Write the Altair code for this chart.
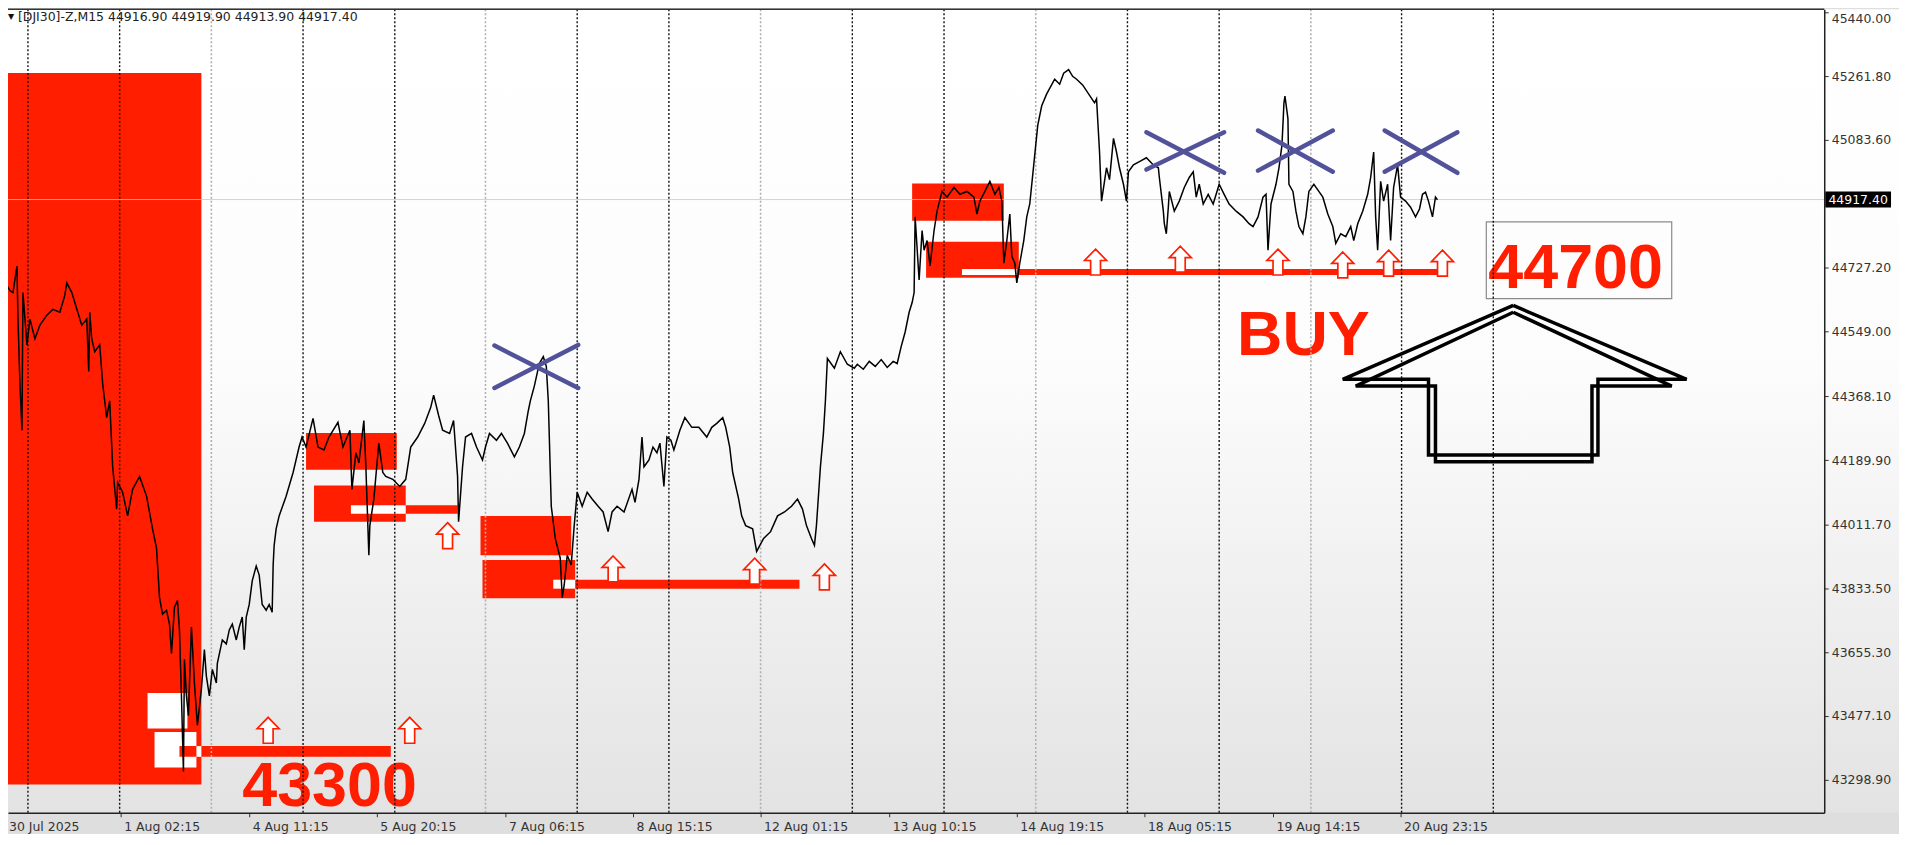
import altair as alt
import pandas as pd

# ---------------- price series: M15 bar index and close price ----------------
BAR = [0,3,5,7,10,13,17,18,20,22,23,27,30,35,40,47,53,60,65,67,72,78,82,87,89,90,92,95,100,103,107,110,113,117,118,123,128,133,140,147,153,157,
       160,163,167,170,172,175,178,180,182,184,185,187,189,192,195,198,202,205,207,210,213,217,218,223,227,230,233,237,240,243,245,247,250,253,257,260,263,267,270,273,274,275,277,280,
       287,294,300,303,307,314,319,325,330,339,344,351,353,357,360,365,367,370,371,375,380,384,387,394,401,407,412,419,426,432,435,440,444,451,455,459,460,464,467,473,478,484,487,491,498,503,509,516,521,526,530,532,536,541,545,548,550,553,557,562,564,566,569,573,576,579,584,589,594,600,605,610,614,619,626,634,637,641,644,646,651,655,659,662,666,669,673,676,682,687,694,701,709,714,719,725,728,732,735,741,744,748,755,759,766,773,780,787,794,800,805,809,814,817,819,823,826,828,
       830,837,843,850,857,860,866,872,878,884,890,896,900,904,908,912,915,917,918,922,925,927,930,933,937,940,945,950,957,963,970,977,980,983,988,993,998,1002,1005,1007,1010,1013,1015,1018,1020,1023,1027,1030,1033,1037,1041,1045,1050,1058,1063,1067,1072,1076,1080,1086,1092,1098,1100,1103,1105,1110,1113,1117,1120,1123,1127,1130,1132,1137,1143,1150,1157,1162,1163,1167,1168,1170,1172,1173,1178,1183,1188,1193,1197,1200,1203,1207,1212,1217,1223,1228,1233,1240,1247,1253,1257,1262,1267,1270,1272,1275,1280,1283,1286,1288,1289,1292,1293,1297,1300,1303,1307,1310,1313,1318,1323,1327,1332,1337,1340,1345,1350,1355,1358,1362,1367,1372,1375,1378,1380,1382,1385,1388,1392,1395,1398,1402,1405,1410,1415,1420,1424,1427,1430,1433,1437,1440,1442]
CLOSE = [44732,44658,44567,44677,44663,44658,44732,44584,44403,44274,44658,44512,44584,44529,44567,44595,44611,44603,44650,44685,44658,44603,44567,44584,44438,44603,44529,44493,44512,44403,44309,44356,44172,44054,44128,44101,44035,44109,44145,44090,43999,43945,
         43807,43761,43772,43733,43651,43780,43799,43717,43533,43322,43635,43533,43478,43725,43569,43451,43552,43662,43588,43533,43607,43569,43624,43689,43678,43717,43733,43689,43725,43753,43662,43753,43788,43854,43895,43870,43788,43772,43788,43766,43898,43953,43999,44035,
         44090,44156,44227,44255,44227,44307,44227,44219,44255,44296,44227,44274,44109,44211,44183,44301,44172,43925,44008,44082,44238,44156,44145,44137,44117,44137,44227,44255,44293,44337,44372,44315,44274,44265,44301,44145,44019,44172,44255,44265,44227,44191,44227,44265,44246,44265,44238,44200,44227,44265,44329,44356,44397,44460,44479,44452,44356,44062,43972,43917,43807,43843,43925,43898,44008,44101,44062,44101,44082,44062,44046,43991,44046,44062,44046,44109,44073,44137,44255,44172,44191,44227,44211,44238,44117,44255,44246,44219,44274,44309,44282,44282,44255,44282,44293,44309,44282,44227,44156,44082,44035,44008,43999,43936,43972,43991,44035,44046,44062,44082,44054,44008,43972,43953,44008,44172,44265,44356,
         44474,44447,44493,44458,44447,44458,44444,44466,44452,44471,44449,44466,44460,44507,44548,44603,44630,44658,44869,44693,44831,44776,44803,44732,44831,44885,44940,44924,44951,44932,44940,44924,44877,44913,44940,44968,44932,44951,44913,44740,44803,44877,44759,44740,44685,44740,44803,44869,44905,45014,45124,45179,45212,45253,45239,45270,45280,45261,45253,45237,45212,45187,45198,45050,44913,45006,44973,45088,45050,45006,44960,44913,44995,45014,45023,45034,45014,45006,44979,44885,44850,44822,44896,44940,44885,44913,44951,44979,44995,44924,44960,44905,44932,44905,44960,44932,44905,44885,44869,44850,44842,44869,44924,44932,44776,44905,44960,45006,45069,45187,45206,45143,44960,44940,44885,44842,44822,44869,44940,44960,44940,44924,44877,44842,44795,44822,44814,44842,44803,44850,44885,44932,44979,45050,44869,44776,44968,44913,44960,44803,44951,45014,44924,44913,44896,44869,44891,44932,44938,44913,44869,44924,44917]

HEADER = "[DJI30]-Z,M15  44916.90 44919.90 44913.90 44917.40"
LAST_PRICE = 44917.40

# ---------------- axes ----------------
TICK_BARS = [121, 250, 378, 507, 635, 763, 892, 1020, 1148, 1277, 1405]
TICK_LABELS = ["1 Aug 02:15", "4 Aug 11:15", "5 Aug 20:15", "7 Aug 06:15", "8 Aug 15:15",
               "12 Aug 01:15", "13 Aug 10:15", "14 Aug 19:15", "18 Aug 05:15", "19 Aug 14:15", "20 Aug 23:15"]
FIRST_TICK_BAR = 8
FIRST_TICK_LABEL = "30 Jul 2025"
Y_TICKS = [43298.9, 43477.1, 43655.3, 43833.5, 44011.7, 44189.9, 44368.1, 44549.0, 44727.2, 45083.6, 45261.8, 45440.0]

# day separators (bar index); every third one renders lighter
SEP_BARS = [28, 120, 212, 304, 396, 487, 579, 671, 763, 855, 947, 1039, 1131, 1223, 1315, 1406, 1498]
SEP_LIGHT = [False, False, True, False, False, True, False, False, True, False, False, True, False, False, True, False, False]

# ---------------- drawn objects ----------------
ZONE_X1 = [0, 307, 315, 482, 484, 915, 929]
ZONE_X2 = [202, 398, 407, 573, 577, 1007, 1022]
ZONE_TOP = [45270, 44266, 44120, 44035, 43912, 44962, 44800]
ZONE_BOT = [43286, 44164, 44019, 43925, 43805, 44858, 44699]

SQ_X1 = [148, 155]
SQ_X2 = [188, 197]
SQ_TOP = [43541, 43432]
SQ_BOT = [43442, 43333]

LEVEL_X1 = [180, 351, 555, 965]
LEVEL_X2 = [392, 459, 802, 1445]
LEVEL_TOP = [43393, 44065, 43857, 44724]
LEVEL_BOT = [43363, 44041, 43832, 44707]
CUT_X1 = [197, 352, 555, 965]
CUT_X2 = [202, 407, 577, 1020]

UP_BARS = [269, 411, 449, 615, 757, 827, 1099, 1184, 1282, 1347, 1393, 1447]
UP_PRICES = [43437, 43437, 43980, 43887, 43881, 43865, 44743, 44751, 44743, 44735, 44740, 44740]

CROSS_X1 = [496, 496, 1150, 1150, 1262, 1262, 1389, 1389]
CROSS_P1 = [44510, 44392, 45001, 45105, 45110, 44998, 45110, 44995]
CROSS_X2 = [580, 580, 1228, 1228, 1337, 1337, 1462, 1462]
CROSS_P2 = [44392, 44512, 45105, 44992, 44995, 45110, 44992, 45105]

BIG_OUT_X = [1518, 1692, 1603, 1603, 1433, 1433, 1347, 1518]
BIG_OUT_P = [44622, 44416, 44416, 44205, 44205, 44416, 44416, 44622]
BIG_IN_X = [1518, 1677, 1597, 1597, 1440, 1440, 1360, 1518]
BIG_IN_P = [44603, 44397, 44397, 44186, 44186, 44397, 44397, 44603]

TEXTS = ["43300", "44700", "BUY"]
TEXT_BARS = [243, 1493, 1241]
TEXT_PRICES = [43226, 44672, 44485]
BOX_X = [1491, 1677]
BOX_P = [44855, 44641]

PRICE_BOX_X = [1831, 1897]
PRICE_BOX_P = [44940, 44895]

# ---------------- layout ----------------
W, H = 1822, 806
RED = "#ff1e00"
xs = alt.Scale(domain=[8, 1830], nice=False, zero=False)
ys = alt.Scale(domain=[43207, 45448], nice=False, zero=False)

labels_js = "[" + ",".join("'%s'" % s for s in TICK_LABELS) + "]"
bars_js = "[" + ",".join(str(b) for b in TICK_BARS) + "]"
x_axis = alt.Axis(values=TICK_BARS, labelExpr=f"{labels_js}[indexof({bars_js}, datum.value)]",
                  orient="bottom", title=None, grid=False, labelAlign="left", labelBaseline="top",
                  labelFont="DejaVu Sans", labelFontSize=12.5, labelColor="#333", labelOffset=3,
                  labelPadding=4, tickSize=4, tickColor="#333", domainColor="#222", domainWidth=1.5,
                  labelOverlap=False, labelFlush=False, zindex=1)
y_axis = alt.Axis(values=Y_TICKS, format=".2f", orient="right", title=None, grid=False,
                  labelFont="DejaVu Sans", labelFontSize=12.5, labelColor="#333", labelAlign="left",
                  labelBaseline={"condition": {"test": "datum.value > 45400", "value": "top"},
                                 "value": "middle"},
                  labelPadding=3, tickSize=4, tickColor="#333", domainColor="#222", domainWidth=1.5,
                  labelOverlap=False, labelFlush=False, zindex=1)


def X(f):
    return alt.X(f, type="quantitative", scale=xs, axis=x_axis)


def Y(f):
    return alt.Y(f, type="quantitative", scale=ys, axis=y_axis)


one = pd.DataFrame({"a": [0]})
price_df = pd.DataFrame({"bar": BAR, "close": CLOSE})
zones = pd.DataFrame({"x1": ZONE_X1, "x2": ZONE_X2, "t": ZONE_TOP, "b": ZONE_BOT})
squares = pd.DataFrame({"x1": SQ_X1, "x2": SQ_X2, "t": SQ_TOP, "b": SQ_BOT})
levels = pd.DataFrame({"x1": LEVEL_X1, "x2": LEVEL_X2, "t": LEVEL_TOP, "b": LEVEL_BOT})
cuts = pd.DataFrame({"x1": CUT_X1, "x2": CUT_X2, "t": LEVEL_TOP, "b": LEVEL_BOT})
seps = pd.DataFrame({"bar": SEP_BARS, "light": SEP_LIGHT})
ups = pd.DataFrame({"bar": UP_BARS, "p": UP_PRICES})
crosses = pd.DataFrame({"x1": CROSS_X1, "p1": CROSS_P1, "x2": CROSS_X2, "p2": CROSS_P2})
big = pd.DataFrame({"shape": ["o"] * len(BIG_OUT_X) + ["i"] * len(BIG_IN_X),
                    "idx": list(range(len(BIG_OUT_X))) + list(range(len(BIG_IN_X))),
                    "bar": BIG_OUT_X + BIG_IN_X, "p": BIG_OUT_P + BIG_IN_P})
texts = pd.DataFrame({"t": TEXTS, "bar": TEXT_BARS, "p": TEXT_PRICES})
box = pd.DataFrame({"x1": [BOX_X[0]], "x2": [BOX_X[1]], "t": [BOX_P[0]], "b": [BOX_P[1]]})
pbox = pd.DataFrame({"x1": [PRICE_BOX_X[0]], "x2": [PRICE_BOX_X[1]], "t": [PRICE_BOX_P[0]],
                     "b": [PRICE_BOX_P[1]], "xm": [(PRICE_BOX_X[0] + PRICE_BOX_X[1]) / 2],
                     "p": [LAST_PRICE], "lbl": ["%.2f" % LAST_PRICE]})
last = pd.DataFrame({"p": [LAST_PRICE]})
first_lbl = pd.DataFrame({"bar": [FIRST_TICK_BAR], "t": [FIRST_TICK_LABEL]})

bg = alt.Chart(one).mark_rect(
    color=alt.Gradient(gradient="linear", x1=0, x2=0, y1=0, y2=1,
                       stops=[alt.GradientStop(color="#ffffff", offset=0),
                              alt.GradientStop(color="#fcfcfc", offset=0.45),
                              alt.GradientStop(color="#e3e3e3", offset=1)])
).encode(x=alt.value(0), x2=alt.value(W + 75), y=alt.value(0), y2=alt.value(H))


def rects(df, color):
    return alt.Chart(df).mark_rect(color=color, clip=True).encode(
        x=X("x1"), x2="x2", y=Y("t"), y2="b")


big_text = alt.Chart(texts).mark_text(font="Liberation Sans", fontWeight="bold", fontSize=63,
                                      color=RED, align="left", baseline="alphabetic").encode(
    x=X("bar"), y=Y("p"), text="t")

box_l = alt.Chart(box).mark_rect(filled=False, stroke="#8a8a8a", strokeWidth=1.2).encode(
    x=X("x1"), x2="x2", y=Y("t"), y2="b")

sep_dark = alt.Chart(seps).transform_filter("!datum.light").mark_rule(
    color="#111111", strokeWidth=1.4, strokeDash=[2, 2]).encode(x=X("bar"))
sep_light = alt.Chart(seps).transform_filter("datum.light").mark_rule(
    color="#b0b0b0", strokeWidth=1.6, strokeDash=[2, 2]).encode(x=X("bar"))

last_line = alt.Chart(last).mark_rule(color="#c8c8c8", strokeWidth=1, opacity=0.8).encode(y=Y("p"))

line = alt.Chart(price_df).mark_line(color="#000000", strokeWidth=1.5, clip=True).encode(
    x=X("bar"), y=Y("close"))

ARROW_PATH = "M0,-1L0.85,-0.12L0.38,-0.12L0.38,1L-0.38,1L-0.38,-0.12L-0.85,-0.12Z"
up = alt.Chart(ups).mark_point(shape=ARROW_PATH, size=676, filled=True, fill="#ffffff",
                               stroke=RED, strokeWidth=1.7, opacity=1).encode(x=X("bar"), y=Y("p"))

cross = alt.Chart(crosses).mark_rule(color="#52529a", strokeWidth=4.5, strokeCap="round").encode(
    x=X("x1"), y=Y("p1"), x2="x2", y2="p2")

big_arrow = alt.Chart(big).mark_line(color="#000000", strokeWidth=3.5, strokeJoin="miter").encode(
    x=X("bar"), y=Y("p"), detail="shape:N", order="idx:Q")

pbox_r = alt.Chart(pbox).mark_rect(color="#000000").encode(x=X("x1"), x2="x2", y=Y("t"), y2="b")
pbox_t = alt.Chart(pbox).mark_text(color="#ffffff", font="DejaVu Sans", fontSize=12.5,
                                   align="center", baseline="middle").encode(
    x=X("xm"), y=Y("p"), text="lbl")

top_rule = alt.Chart(one).mark_rule(color="#333333", strokeWidth=1.5).encode(
    x=alt.value(0), x2=alt.value(W), y=alt.value(0))

header_tri = alt.Chart(one).mark_text(text="\u25bc", font="DejaVu Sans", fontSize=8, color="#111",
                                      align="left", baseline="middle").encode(
    x=alt.value(0), y=alt.value(8))
header = alt.Chart(one).mark_text(text=HEADER, font="DejaVu Sans", fontSize=12.5, color="#222",
                                  align="left", baseline="middle").encode(
    x=alt.value(10), y=alt.value(8))

first = alt.Chart(first_lbl).mark_text(font="DejaVu Sans", fontSize=12.5, color="#333",
                                       align="left", baseline="top", dx=1).encode(
    x=X("bar"), y=alt.value(H + 8), text="t")

chart = alt.layer(
    bg, rects(zones, RED), rects(squares, "#ffffff"), rects(levels, RED), rects(cuts, "#ffffff"),
    big_text, box_l, sep_dark, sep_light, last_line, line, up, cross, big_arrow,
    pbox_r, pbox_t, top_rule, header_tri, header, first
).properties(
    width=W, height=H,
    autosize=alt.AutoSizeParams(type="none"),
    padding={"left": 0, "top": 0, "right": 75, "bottom": 20},
    background="#dedede",
).configure_view(strokeWidth=0)

chart.save("out.html", embed_options={"renderer": "svg", "actions": False})
